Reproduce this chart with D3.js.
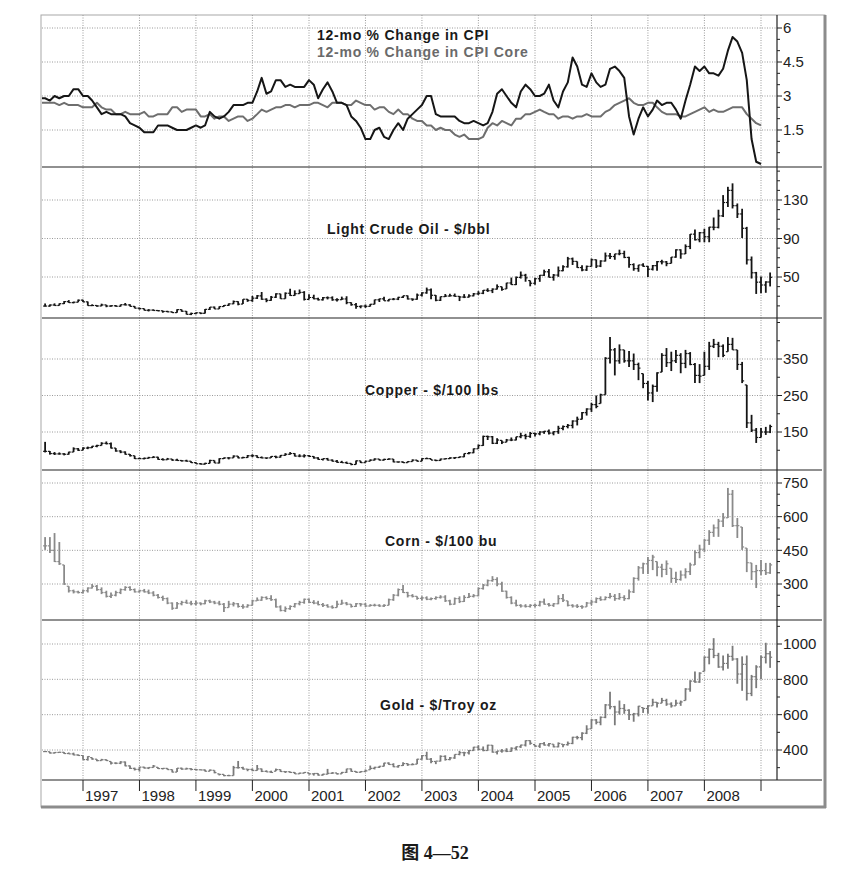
<!DOCTYPE html>
<html>
<head>
<meta charset="utf-8">
<script src="https://cdn.jsdelivr.net/npm/d3@7"></script>
<style>
  body { margin: 0; background: #fff; }
  text { font-family: "Liberation Sans", Arial, sans-serif; }
</style>
</head>
<body>
<div id="chart"></div>
<script>
var w = 864;
var h = 877;

// ---- data: monthly, CPI from Apr 1996, bars from May 1996 ----
var cpiTitle = "12-mo % Change in CPI";
var coreTitle = "12-mo % Change in CPI Core";

var cpi = [
  2.9,2.9,2.8,3.0,2.9,3.0,3.0,3.3,3.3,
  3.0,3.0,2.8,2.5,2.2,2.3,2.2,2.2,2.2,2.1,1.8,1.7,
  1.6,1.4,1.4,1.4,1.7,1.7,1.7,1.6,1.5,1.5,1.5,1.6,
  1.7,1.6,1.7,2.3,2.1,2.0,2.1,2.3,2.6,2.6,2.6,2.7,
  2.7,3.2,3.8,3.1,3.2,3.7,3.7,3.4,3.5,3.4,3.4,3.4,
  3.7,3.5,2.9,3.3,3.6,3.2,2.7,2.7,2.6,2.1,1.9,1.6,
  1.1,1.1,1.5,1.6,1.2,1.1,1.5,1.8,1.5,2.0,2.2,2.4,
  2.6,3.0,3.0,2.2,2.1,2.1,2.1,2.1,1.9,1.8,1.8,1.9,
  1.8,1.7,1.8,2.3,3.1,3.3,3.0,2.7,2.5,3.2,3.5,3.3,
  3.0,3.0,3.1,3.5,2.8,2.5,3.2,3.6,4.7,4.3,3.5,3.4,
  4.0,3.6,3.4,3.5,4.2,4.3,4.1,3.8,2.1,1.3,2.0,2.5,
  2.1,2.4,2.8,2.6,2.7,2.7,2.4,2.0,2.8,3.5,4.3,4.1,
  4.3,4.0,4.0,3.9,4.2,5.0,5.6,5.4,4.9,3.7,1.1,0.1,
  0.0
];
var cpiCore = [
  2.7,2.7,2.7,2.7,2.6,2.7,2.6,2.6,2.6,
  2.5,2.5,2.5,2.7,2.5,2.4,2.4,2.2,2.2,2.3,2.2,2.2,
  2.2,2.3,2.1,2.1,2.2,2.2,2.2,2.5,2.5,2.3,2.4,2.4,
  2.4,2.1,2.1,2.2,2.0,2.1,2.1,1.9,2.0,2.1,2.1,1.9,
  2.0,2.2,2.4,2.3,2.4,2.5,2.5,2.6,2.6,2.5,2.6,2.6,
  2.6,2.7,2.7,2.6,2.5,2.7,2.7,2.7,2.6,2.6,2.8,2.7,
  2.6,2.6,2.4,2.5,2.5,2.3,2.2,2.4,2.2,2.2,2.0,1.9,
  1.9,1.7,1.7,1.5,1.6,1.5,1.5,1.3,1.2,1.3,1.1,1.1,
  1.1,1.2,1.6,1.8,1.7,1.9,1.8,1.7,2.0,2.0,2.2,2.2,
  2.3,2.4,2.3,2.2,2.2,2.0,2.1,2.1,2.0,2.1,2.1,2.2,
  2.1,2.1,2.1,2.3,2.4,2.6,2.7,2.8,2.9,2.7,2.6,2.6,
  2.7,2.7,2.5,2.3,2.2,2.2,2.2,2.1,2.1,2.2,2.3,2.4,
  2.5,2.3,2.4,2.3,2.3,2.4,2.5,2.5,2.5,2.2,2.0,1.8,
  1.7
];

var crudeHigh = [
  22.5,21.5,22.6,22.6,25.0,26.0,24.4,26.6,
  26.3,24.5,21.6,20.6,22.3,21.1,20.6,20.9,21.4,23.0,21.8,19.8,
  18.2,17.2,16.6,16.4,15.8,15.0,14.9,14.0,16.5,16.2,14.7,13.0,
  13.0,13.0,16.7,18.8,19.3,19.5,20.8,22.6,25.6,24.8,27.0,27.2,
  30.3,31.3,34.4,27.9,30.3,33.1,32.6,34.0,37.8,36.1,37.0,35.3,
  32.2,31.6,28.5,29.3,29.8,29.9,27.9,29.6,30.0,23.7,23.0,20.4,
  21.4,22.0,26.5,27.6,29.4,27.1,28.2,29.4,30.6,30.8,27.6,32.8,
  34.2,39.0,38.1,31.2,29.7,32.3,32.5,32.8,30.2,32.2,32.0,33.4,
  35.3,36.5,38.3,38.2,42.3,40.0,44.0,49.4,50.5,55.7,53.3,46.3,
  49.2,52.1,57.6,58.3,53.1,60.9,62.3,70.9,70.2,66.2,62.1,61.9,
  69.2,68.2,67.4,75.4,74.9,74.1,78.4,77.3,71.0,64.2,62.6,64.3,
  61.4,62.5,66.7,67.9,66.6,70.8,78.8,78.8,83.9,94.6,99.3,96.8,
  100.1,102.1,111.8,119.9,135.1,143.7,147.3,126.4,120.9,102.1,71.3,55.3,
  50.5,45.6,54.7
];
var crudeLow = [
  19.3,19.2,20.2,20.3,21.9,23.2,22.6,23.8,
  24.0,20.2,19.8,19.0,19.7,18.6,19.0,19.2,19.2,20.5,19.3,17.5,
  16.1,15.3,14.2,14.9,14.5,12.9,13.4,12.6,12.8,13.9,11.1,10.4,
  11.3,11.4,12.2,15.8,16.7,16.8,19.0,19.9,21.8,20.6,21.9,24.2,
  24.2,27.2,26.3,23.8,25.3,28.2,27.3,27.4,30.3,30.5,32.5,25.6,
  26.6,26.8,25.6,25.5,26.7,25.3,24.6,26.1,21.7,20.2,17.0,17.5,
  17.9,19.3,21.6,24.0,25.2,24.7,25.9,26.0,28.1,26.6,25.2,26.4,
  29.7,32.6,26.8,24.8,25.1,29.2,29.8,29.6,25.0,28.1,28.6,29.9,
  31.4,32.2,34.5,33.3,37.0,35.7,37.6,41.8,41.6,48.4,45.1,40.3,
  41.9,45.0,51.1,49.4,46.2,50.2,55.9,59.8,62.5,59.5,56.1,56.3,
  60.8,59.3,60.3,66.1,68.6,67.9,72.6,69.6,59.5,56.5,55.4,60.6,
  49.9,56.8,56.6,63.1,61.2,64.1,69.9,69.0,73.9,79.0,88.0,86.1,
  86.1,86.1,98.6,100.5,112.3,122.7,121.2,111.3,90.5,63.0,48.4,32.4,
  33.2,33.6,40.2
];
var crudeClose = [
  19.8,20.9,20.4,22.3,24.4,23.4,23.8,25.9,
  24.2,20.3,20.4,19.9,21.0,19.8,20.1,19.6,21.2,21.0,19.5,17.6,
  17.2,15.4,15.6,15.2,14.9,14.2,13.8,13.0,16.1,14.4,11.2,12.1,
  12.8,12.3,16.4,18.7,16.8,19.3,20.5,22.1,24.5,21.8,26.9,25.6,
  28.0,30.4,26.9,25.7,29.0,32.5,27.4,33.1,30.8,32.7,34.0,26.8,
  28.7,27.4,26.3,28.5,28.4,26.3,26.4,27.2,23.4,21.2,19.4,19.8,
  19.5,21.7,26.3,27.3,25.3,26.9,27.0,28.9,30.5,27.2,26.9,31.2,
  33.5,36.6,31.0,25.8,29.6,30.2,30.5,29.9,29.2,29.1,30.4,32.5,
  33.1,36.2,35.8,37.4,39.9,37.1,43.8,42.1,49.6,51.8,49.1,43.5,
  48.2,51.8,55.4,49.7,52.0,56.5,60.6,68.9,66.2,59.8,57.3,61.0,
  67.9,61.4,66.6,71.9,71.3,74.0,74.4,70.3,62.9,58.7,62.5,61.1,
  58.1,61.8,65.9,65.7,64.0,70.7,78.2,74.0,81.7,94.5,88.7,96.0,
  91.8,101.8,101.6,113.5,127.4,140.0,124.1,115.5,100.6,67.8,54.4,44.6,
  41.7,44.8,49.7
];

var copperHigh = [
  123,98,95,94,92,96,108,106,
  108,110,112,115,122,124,121,106,100,97,90,85,
  80,80,82,84,82,78,79,76,77,73,74,70,
  67,65,66,74,72,78,80,81,86,84,82,87,
  89,86,83,80,84,85,87,92,95,92,89,89,
  87,84,81,77,79,75,73,71,69,64,72,71,
  71,75,78,76,77,78,76,69,69,70,75,73,
  78,80,77,74,77,78,81,81,83,91,95,105,
  116,140,140,139,133,127,131,135,137,148,145,150,
  148,152,153,157,152,167,168,172,182,192,205,215,
  230,250,255,355,410,380,390,375,372,365,340,310,
  290,280,314,366,380,370,375,366,375,369,339,336,
  370,397,405,397,390,410,408,375,342,279,197,161,
  161,164,170
];
var copperLow = [
  94,88,87,88,86,88,95,98,
  100,103,106,108,113,116,105,96,92,88,83,76,
  76,75,77,79,74,72,74,71,71,69,69,65,
  63,61,61,64,65,64,76,75,79,78,78,79,
  81,79,78,76,79,78,80,85,88,83,81,80,
  82,77,74,72,72,69,66,65,63,59,61,65,
  66,70,72,72,72,74,67,66,65,66,69,69,
  70,76,73,70,71,75,76,76,79,81,89,92,
  104,112,128,117,117,117,122,125,127,133,130,134,
  138,141,145,143,141,145,155,160,160,168,184,195,
  205,215,228,252,338,305,337,340,328,320,292,270,
  236,232,260,314,328,317,339,311,325,333,284,284,
  305,320,380,355,355,370,375,320,284,161,150,120,
  135,142,147
];
var copperClose = [
  97,91,90,90,89,95,104,100,
  106,107,111,113,119,118,106,98,95,89,85,77,
  77,78,80,81,75,74,76,73,72,71,70,66,
  63,62,64,72,65,77,79,79,84,79,80,85,
  85,80,79,79,83,81,86,89,91,84,84,85,
  83,79,75,77,73,70,67,66,64,61,71,66,
  70,73,76,73,75,76,68,68,66,69,73,70,
  77,77,73,72,76,77,79,80,82,91,93,104,
  113,138,137,119,128,122,128,128,137,140,138,146,
  145,150,152,147,151,160,165,168,180,185,203,213,
  225,220,252,352,375,345,375,345,345,335,325,283,
  257,275,312,360,340,345,360,338,365,335,305,303,
  330,385,390,385,360,390,375,335,290,175,155,135,
  150,150,165
];

var cornHigh = [
  509,509,527,487,385,290,275,270,
  275,285,300,296,285,270,262,270,280,290,290,280,
  275,278,275,268,255,248,240,218,220,225,230,225,
  225,218,230,230,225,225,215,225,220,215,210,210,
  230,240,245,245,250,235,205,200,205,215,225,235,
  235,228,225,215,210,205,225,230,220,210,215,215,
  215,210,212,210,210,235,255,280,295,265,255,245,
  245,245,240,245,250,250,230,240,245,250,260,255,
  285,300,320,335,330,310,270,245,230,210,210,210,
  212,225,235,215,215,250,255,225,210,210,205,220,
  230,240,245,245,260,255,260,250,275,330,380,395,
  420,430,400,390,405,370,355,360,370,395,450,475,
  500,540,565,590,616,728,719,594,554,460,394,385,
  407,394,394
];
var cornLow = [
  452,438,398,385,296,262,258,258,
  258,262,280,270,255,240,238,245,255,270,270,262,
  262,262,255,245,235,225,210,185,190,205,212,205,
  205,205,210,215,210,205,175,195,200,195,190,195,
  205,225,225,230,225,195,178,175,185,195,205,212,
  215,210,205,198,195,190,195,208,205,195,198,200,
  198,200,200,198,198,205,225,245,260,240,240,230,
  228,228,228,230,235,220,205,208,215,220,238,240,
  245,275,290,310,290,265,235,210,200,195,195,195,
  195,200,208,200,198,210,220,200,195,193,190,198,
  205,215,225,228,235,225,230,225,232,260,315,345,
  345,362,335,330,340,305,305,315,325,340,385,415,
  443,474,510,510,554,594,554,505,452,353,318,282,
  340,340,345
];
var cornClose = [
  470,450,400,390,300,270,265,262,
  270,282,290,275,262,245,250,262,275,285,275,265,
  270,265,260,250,240,235,215,192,212,218,215,212,
  215,212,225,220,215,210,195,210,212,200,198,205,
  225,228,240,235,230,198,182,190,200,212,218,232,
  218,215,208,205,198,195,210,215,210,200,212,210,
  202,205,205,202,205,230,250,275,262,248,245,236,
  238,232,235,240,242,225,210,235,222,240,245,248,
  280,295,315,320,300,268,240,215,205,202,200,205,
  205,220,210,205,212,235,228,205,202,200,198,215,
  220,235,230,240,245,235,240,235,265,325,372,390,
  405,420,375,365,390,325,320,340,355,385,440,455,
  495,530,550,580,595,700,560,560,465,395,355,360,
  360,350,385
];

var goldHigh = [
  395,390,388,390,388,386,385,375,
  370,365,357,348,350,347,335,330,337,335,312,300,
  305,305,302,315,302,298,297,290,298,300,300,297,
  293,290,289,290,285,265,262,260,310,338,305,292,
  295,315,295,285,283,295,290,280,278,275,272,275,
  270,268,268,265,293,275,270,276,294,295,280,280,
  290,312,305,310,328,330,325,315,330,325,325,350,
  372,390,355,335,370,370,360,375,395,390,400,418,
  427,420,430,428,395,405,410,415,420,430,455,455,
  430,438,445,440,433,443,433,448,475,480,500,540,
  575,575,590,660,730,650,680,660,630,610,650,640,
  655,690,670,695,690,670,685,680,750,795,845,840,
  930,975,1033,950,935,945,990,920,930,935,825,880,
  935,1007,960
];
var goldLow = [
  389,380,380,385,378,378,370,367,
  345,340,345,337,340,338,318,320,320,308,292,284,
  278,295,292,300,292,290,288,273,275,288,290,285,
  285,286,278,280,268,256,252,252,255,295,290,280,
  280,283,275,275,270,280,276,270,270,264,264,268,
  262,255,255,255,262,265,262,265,270,277,271,272,
  277,288,290,298,306,316,303,300,310,310,314,320,
  345,345,325,320,335,340,342,350,370,365,375,395,
  400,393,395,385,375,385,388,390,398,412,420,430,
  418,412,425,420,415,415,415,425,433,460,455,490,
  520,545,540,580,630,540,600,605,570,560,590,610,
  605,650,640,665,650,640,650,650,680,730,780,780,
  845,885,920,865,850,860,905,775,735,680,705,750,
  800,890,865
];
var goldClose = [
  391,383,386,387,380,378,372,369,
  346,363,349,340,345,340,326,325,332,310,296,290,
  303,298,301,309,295,296,289,275,297,292,294,290,
  288,287,280,286,272,262,255,255,300,300,292,290,
  284,293,279,276,273,289,278,277,273,265,269,273,
  265,267,258,263,268,270,265,273,293,279,274,278,
  282,296,302,308,326,318,305,312,323,317,318,348,
  368,348,335,337,364,346,355,375,385,384,397,416,
  404,397,427,388,394,395,392,410,418,428,453,438,
  422,436,428,436,418,437,430,437,472,470,495,518,
  570,557,585,655,645,615,635,625,600,605,648,635,
  650,670,665,680,660,650,665,672,745,790,785,835,
  925,970,935,870,890,930,915,830,885,720,815,870,
  925,945,925
];

var crudeTitle = "Light Crude Oil - $/bbl";
var copperTitle = "Copper - $/100 lbs";
var cornTitle = "Corn - $/100 bu";
var goldTitle = "Gold - $/Troy oz";

var cpiTicks = [1.5, 3, 4.5, 6];
var crudeTicks = [50, 90, 130];
var copperTicks = [150, 250, 350];
var cornTicks = [300, 450, 600, 750];
var goldTicks = [400, 600, 800, 1000];

var yearLabels = ["1997","1998","1999","2000","2001","2002","2003","2004","2005","2006","2007","2008"];
var caption = "图 4—52";

// ---- layout ----
var plotLeft = 42, axisX = 777, lineEnd = 822, plotTop = 15, plotBottom = 780;

var cpiMonths = d3.timeMonth.range(new Date(1996, 3, 1), new Date(2009, 1, 1));
var barMonths = d3.timeMonth.range(new Date(1996, 4, 1), new Date(2009, 3, 1));

var x = d3.scaleTime()
  .domain([new Date(1997, 0, 1), new Date(2009, 0, 1)])
  .range([83, 761]);

var panels = [
  {top: 15,  bottom: 167, y: d3.scaleLinear().domain([1.5, 6]).range([130, 28]),    ticks: cpiTicks,    minor: 0.5},
  {top: 167, bottom: 318, y: d3.scaleLinear().domain([50, 130]).range([277, 200]),  ticks: crudeTicks,  minor: 10},
  {top: 318, bottom: 470, y: d3.scaleLinear().domain([150, 350]).range([432, 359]), ticks: copperTicks, minor: 50},
  {top: 470, bottom: 620, y: d3.scaleLinear().domain([300, 750]).range([584, 483]), ticks: cornTicks,   minor: 50},
  {top: 620, bottom: 780, y: d3.scaleLinear().domain([400, 1000]).range([750, 644]), ticks: goldTicks,  minor: 100}
];

var svg = d3.select("#chart")
  .append("svg")
  .attr("width", w)
  .attr("height", h);

svg.append("defs").append("clipPath").attr("id", "plotclip")
  .append("rect")
  .attr("x", plotLeft).attr("y", plotTop)
  .attr("width", axisX - plotLeft).attr("height", plotBottom - plotTop);

// frame
svg.append("rect")
  .attr("x", 41).attr("y", 15)
  .attr("width", 784).attr("height", 792)
  .attr("fill", "#fff")
  .attr("stroke", "#a8a8a8")
  .attr("stroke-width", 1);
svg.append("line")
  .attr("x1", 825).attr("y1", 15).attr("x2", 825).attr("y2", 808)
  .attr("stroke", "#8c8c8c").attr("stroke-width", 3);
svg.append("line")
  .attr("x1", 41).attr("y1", 807).attr("x2", 826).attr("y2", 807)
  .attr("stroke", "#8c8c8c").attr("stroke-width", 3);

// vertical year grid
var yearDates = d3.timeYear.range(new Date(1997, 0, 1), new Date(2009, 0, 2));
svg.selectAll("line.vgrid")
  .data(yearDates)
  .enter()
  .append("line")
  .attr("class", "vgrid")
  .attr("x1", function(d) { return x(d); })
  .attr("x2", function(d) { return x(d); })
  .attr("y1", plotTop)
  .attr("y2", plotBottom)
  .attr("stroke", "#9a9a9a")
  .attr("stroke-width", 1)
  .attr("stroke-dasharray", "1,1.5");

// horizontal grid, ticks and labels for each panel
panels.forEach(function(p) {
  svg.selectAll(null)
    .data(p.ticks)
    .enter()
    .append("line")
    .attr("x1", plotLeft)
    .attr("x2", axisX)
    .attr("y1", function(d) { return p.y(d); })
    .attr("y2", function(d) { return p.y(d); })
    .attr("stroke", "#9a9a9a")
    .attr("stroke-width", 1)
    .attr("stroke-dasharray", "1,1.5");

  var lo = p.y.invert(p.bottom - 4), hi = p.y.invert(p.top + 2);
  var minors = d3.range(Math.ceil(lo / p.minor) * p.minor, hi, p.minor)
    .filter(function(v) { return p.ticks.every(function(t) { return Math.abs(t - v) > 1e-6; }); });

  svg.selectAll(null)
    .data(minors)
    .enter()
    .append("line")
    .attr("x1", axisX)
    .attr("x2", axisX + 3)
    .attr("y1", function(d) { return p.y(d); })
    .attr("y2", function(d) { return p.y(d); })
    .attr("stroke", "#222")
    .attr("stroke-width", 1);

  svg.selectAll(null)
    .data(p.ticks)
    .enter()
    .append("line")
    .attr("x1", axisX)
    .attr("x2", axisX + 5)
    .attr("y1", function(d) { return p.y(d); })
    .attr("y2", function(d) { return p.y(d); })
    .attr("stroke", "#222")
    .attr("stroke-width", 1);

  svg.selectAll(null)
    .data(p.ticks)
    .enter()
    .append("text")
    .attr("x", axisX + 6)
    .attr("y", function(d) { return p.y(d); })
    .attr("dy", "0.36em")
    .attr("font-size", "15px")
    .attr("fill", "#222")
    .text(function(d) { return d; });
});

var plot = svg.append("g").attr("clip-path", "url(#plotclip)");

// CPI lines
function drawLine(values, color) {
  var line = d3.line()
    .x(function(d, i) { return x(cpiMonths[i]); })
    .y(function(d) { return panels[0].y(d); });
  plot.append("path")
    .datum(values)
    .attr("d", line)
    .attr("fill", "none")
    .attr("stroke", color)
    .attr("stroke-width", 2)
    .attr("stroke-linejoin", "round");
}
drawLine(cpiCore, "#6e6e6e");
drawLine(cpi, "#161616");

// monthly bars: high-low with open (left) and close (right) ticks; open = prior close
function drawBars(p, hi, lo, cl, color) {
  var bars = hi.map(function(d, i) {
    var o = i > 0 ? cl[i - 1] : cl[i];
    o = Math.max(lo[i], Math.min(hi[i], o));
    return {date: barMonths[i], h: hi[i], l: lo[i], c: cl[i], o: o};
  });
  var g = plot.append("g").attr("stroke", color);

  g.selectAll(null)
    .data(bars)
    .enter()
    .append("line")
    .attr("x1", function(d) { return x(d.date); })
    .attr("x2", function(d) { return x(d.date); })
    .attr("y1", function(d) { return p.y(d.h); })
    .attr("y2", function(d) { return p.y(d.l); })
    .attr("stroke-width", 1.8);

  g.selectAll(null)
    .data(bars)
    .enter()
    .append("line")
    .attr("x1", function(d) { return x(d.date) - 2; })
    .attr("x2", function(d) { return x(d.date); })
    .attr("y1", function(d) { return p.y(d.o); })
    .attr("y2", function(d) { return p.y(d.o); })
    .attr("stroke-width", 1.2);

  g.selectAll(null)
    .data(bars)
    .enter()
    .append("line")
    .attr("x1", function(d) { return x(d.date); })
    .attr("x2", function(d) { return x(d.date) + 2; })
    .attr("y1", function(d) { return p.y(d.c); })
    .attr("y2", function(d) { return p.y(d.c); })
    .attr("stroke-width", 1.2);
}
drawBars(panels[1], crudeHigh, crudeLow, crudeClose, "#151515");
drawBars(panels[2], copperHigh, copperLow, copperClose, "#151515");
drawBars(panels[3], cornHigh, cornLow, cornClose, "#8a8a8a");
drawBars(panels[4], goldHigh, goldLow, goldClose, "#7a7a7a");

// panel separators and right axis
svg.selectAll("line.sep")
  .data(panels)
  .enter()
  .append("line")
  .attr("class", "sep")
  .attr("x1", plotLeft)
  .attr("x2", lineEnd)
  .attr("y1", function(d) { return d.bottom; })
  .attr("y2", function(d) { return d.bottom; })
  .attr("stroke", "#222")
  .attr("stroke-width", 1.2);

svg.append("line")
  .attr("x1", axisX).attr("x2", axisX)
  .attr("y1", plotTop).attr("y2", plotBottom)
  .attr("stroke", "#222")
  .attr("stroke-width", 1.2);

// year ticks and labels
svg.selectAll("line.ytick")
  .data(yearDates)
  .enter()
  .append("line")
  .attr("class", "ytick")
  .attr("x1", function(d) { return x(d); })
  .attr("x2", function(d) { return x(d); })
  .attr("y1", plotBottom)
  .attr("y2", plotBottom + 11)
  .attr("stroke", "#222")
  .attr("stroke-width", 1);

svg.selectAll("text.year")
  .data(yearLabels)
  .enter()
  .append("text")
  .attr("class", "year")
  .attr("x", function(d) { return x(new Date(+d, 0, 1)) + 2; })
  .attr("y", 801)
  .attr("font-size", "15px")
  .attr("fill", "#222")
  .text(function(d) { return d; });

// titles
function title(txt, tx, ty, color) {
  svg.append("text")
    .attr("x", tx)
    .attr("y", ty)
    .attr("font-size", "14px")
    .attr("font-weight", "bold")
    .attr("letter-spacing", "0.75px")
    .attr("fill", color)
    .text(txt);
}
title(cpiTitle, 317, 40, "#1a1a1a");
title(coreTitle, 317, 57, "#6a6a6a");
title(crudeTitle, 327, 234, "#1a1a1a");
title(copperTitle, 365, 395, "#1a1a1a");
title(cornTitle, 385, 546, "#1a1a1a");
title(goldTitle, 380, 710, "#1a1a1a");

// caption
svg.append("text")
  .attr("x", 435)
  .attr("y", 859)
  .attr("text-anchor", "middle")
  .attr("font-size", "18px")
  .attr("font-weight", "bold")
  .style("font-family", "'Liberation Serif', 'Noto Sans CJK SC', serif")
  .attr("fill", "#1a1a1a")
  .text(caption);
</script>
</body>
</html>
